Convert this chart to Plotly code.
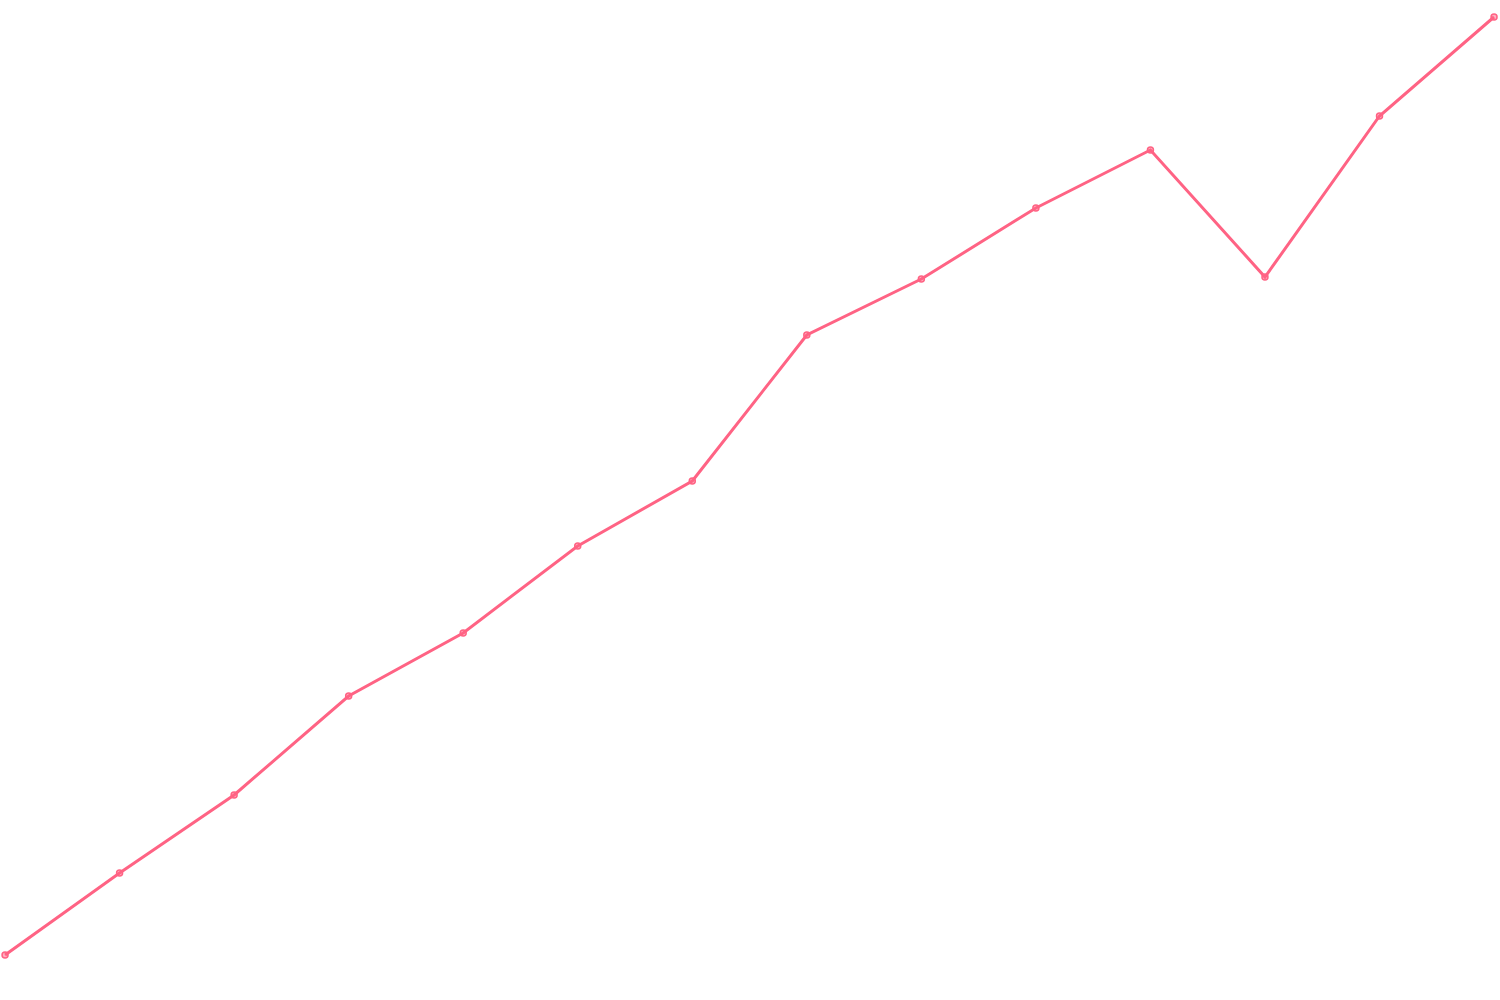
import plotly.graph_objects as go

# values, one per step
steps = list(range(14))
values = [45, 127, 205, 304, 367, 454, 519, 665, 721, 792, 850, 723, 884, 983]

line_color = "rgb(255, 99, 132)"
fill_color = "rgba(255, 99, 132, 0.5)"

fig = go.Figure(
    go.Scatter(
        x=steps,
        y=values,
        mode="lines+markers",
        line=dict(color=line_color, width=3),
        marker=dict(size=6, color=fill_color, line=dict(color=line_color, width=1.5)),
        cliponaxis=False,
        hoverinfo="skip",
    )
)

fig.update_layout(
    width=1500,
    height=1000,
    margin=dict(l=0, r=0, t=0, b=0),
    paper_bgcolor="white",
    plot_bgcolor="white",
    showlegend=False,
    xaxis=dict(range=[-0.044, 13.052], visible=False),
    yaxis=dict(range=[0, 1000], visible=False),
)

# drop the browser's default body margin so the chart sits flush in the window
fig.write_html(
    "out.html",
    config={"displayModeBar": False},
    post_script="document.body.style.margin = '0';",
)
